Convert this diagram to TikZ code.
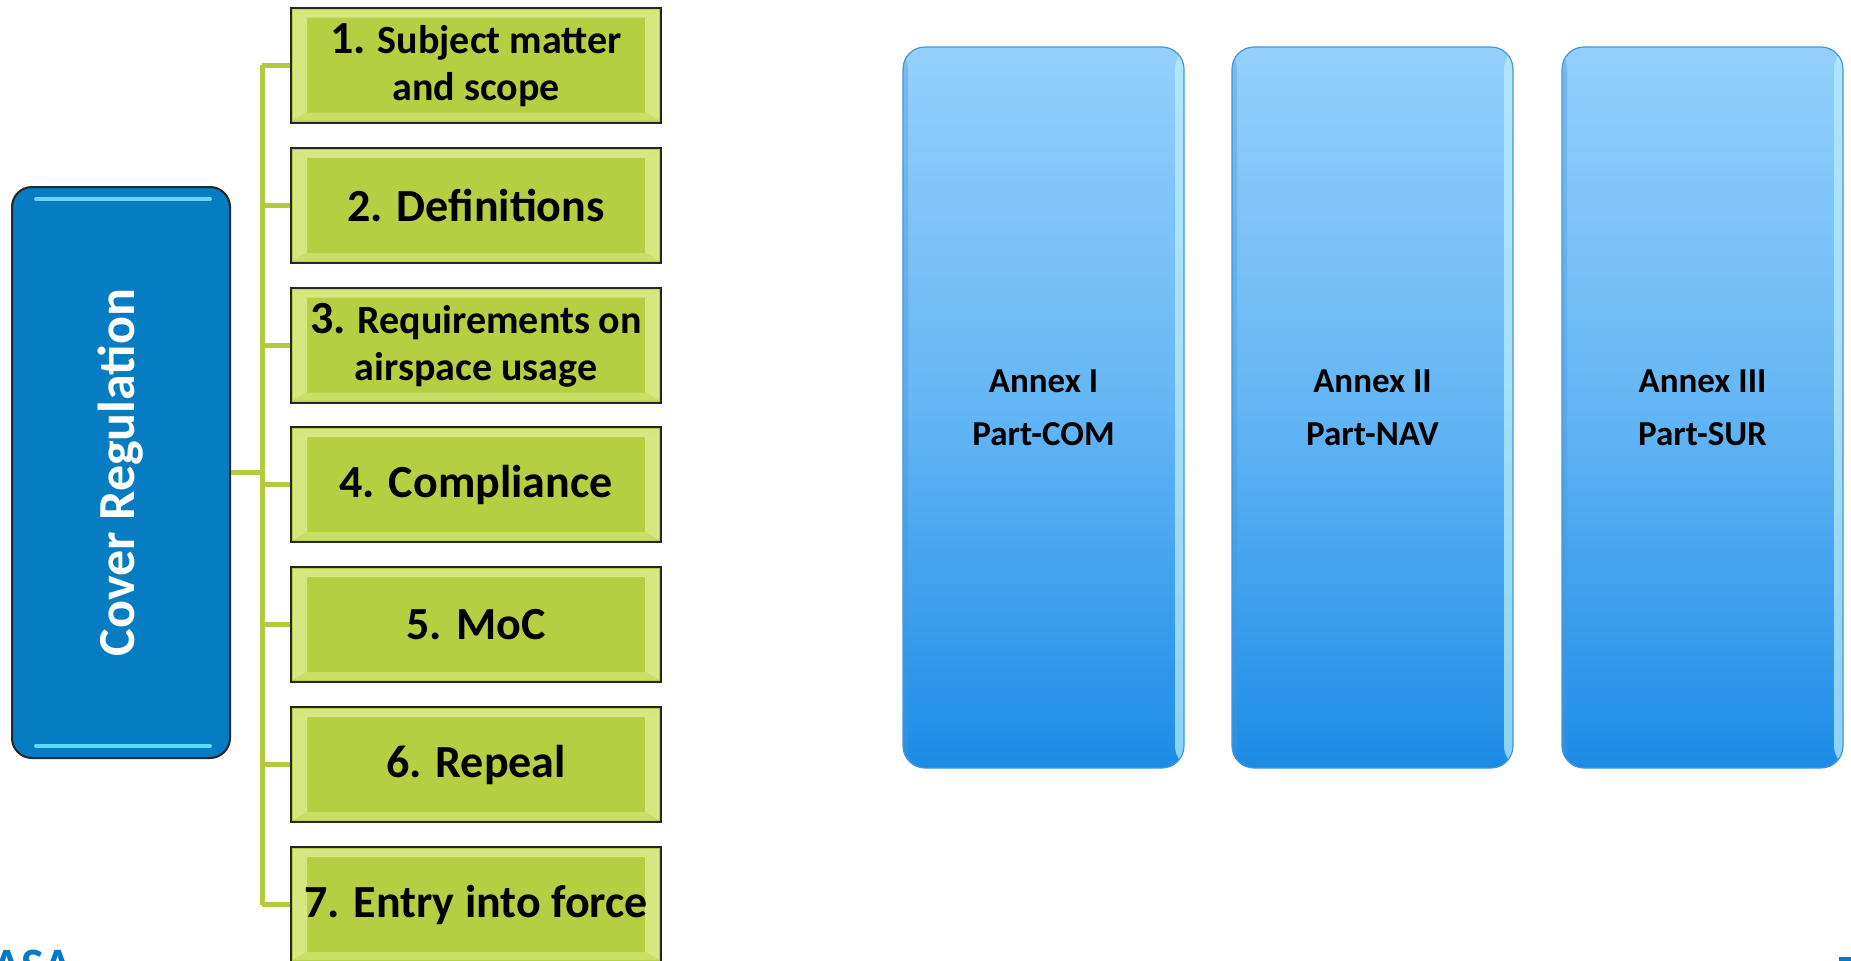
\documentclass[tikz,border=0pt]{standalone}
\usepackage{fontspec}
\usepackage{graphicx}
\setmainfont{Carlito}
\usetikzlibrary{calc}
\definecolor{gfill}{RGB}{181,206,66}
\definecolor{glight}{RGB}{214,230,128}
\definecolor{gbot}{RGB}{200,222,100}
\definecolor{gline}{RGB}{176,204,62}
\definecolor{coverblue}{RGB}{6,125,194}
\definecolor{coverhl}{RGB}{100,215,250}
\definecolor{annextop}{RGB}{148,208,251}
\definecolor{annexmid}{RGB}{100,182,245}
\definecolor{annexbot}{RGB}{28,140,230}
\definecolor{annexedge}{RGB}{70,150,215}
\definecolor{annexhl}{RGB}{190,240,255}
\definecolor{easablue}{RGB}{0,122,200}
\begin{document}
\begin{tikzpicture}[x=0.5pt,y=-0.5pt,
  gbox/.style={draw=black!85, line width=1pt, fill=gfill, minimum width=185pt,
    minimum height=57.5pt, inner sep=0pt, align=center, text=black,
    font=\bfseries\fontsize{23}{24}\selectfont,
    path picture={
      \fill[glight] ($(path picture bounding box.north west)+(1pt,-1pt)$) --
        ($(path picture bounding box.north west)+(8pt,-5pt)$) --
        ($(path picture bounding box.south west)+(8pt,5pt)$) --
        ($(path picture bounding box.south west)+(1pt,1pt)$) -- cycle;
      \fill[glight] ($(path picture bounding box.north east)+(-1pt,-1pt)$) --
        ($(path picture bounding box.north east)+(-8pt,-5pt)$) --
        ($(path picture bounding box.south east)+(-8pt,5pt)$) --
        ($(path picture bounding box.south east)+(-1pt,1pt)$) -- cycle;
      \fill[glight] ($(path picture bounding box.north west)+(1pt,-1pt)$) --
        ($(path picture bounding box.north east)+(-1pt,-1pt)$) --
        ($(path picture bounding box.north east)+(-8pt,-5pt)$) --
        ($(path picture bounding box.north west)+(8pt,-5pt)$) -- cycle;
      \fill[gbot] ($(path picture bounding box.south west)+(1pt,1pt)$) --
        ($(path picture bounding box.south east)+(-1pt,1pt)$) --
        ($(path picture bounding box.south east)+(-8pt,5pt)$) --
        ($(path picture bounding box.south west)+(8pt,5pt)$) -- cycle;
    }},
  gtwo/.style={gbox, font=\bfseries\fontsize{20}{23.5}\selectfont},
  cover/.style={draw=black!85, line width=1pt, fill=coverblue, rounded corners=10pt,
    minimum width=109pt, minimum height=285.5pt, inner sep=0pt, text=white,
    font=\bfseries\fontsize{26}{28}\selectfont},
  annex/.style={rounded corners=11pt, minimum width=140.5pt, minimum height=360.5pt,
    draw=annexedge, line width=0.6pt, top color=annextop, bottom color=annexbot,
    middle color=annexmid, align=center, inner sep=0pt, text=black,
    font=\bfseries\fontsize{17.5}{26.5}\selectfont,
    path picture={
      \fill[annexhl, opacity=0.7] ($(path picture bounding box.north east)+(-4.5pt,0pt)$)
        rectangle (path picture bounding box.south east);
      \fill[annexedge, opacity=0.35] (path picture bounding box.north west)
        rectangle ($(path picture bounding box.south west)+(2.5pt,0pt)$);
    }},
  conn/.style={draw=gline, line width=2.5pt},
  hl/.style={draw=coverhl, line width=2pt, line cap=round}
]
\clip (0,0) rectangle (1851,960);
\fill[white] (0,0) rectangle (1851,960);

% Cover regulation
\node[cover] (cover) at (121,472.5) {\rotatebox{90}{Cover Regulation}};
\draw[hl] (36,199) -- (210,199);
\draw[hl] (36,746) -- (210,746);

% green article boxes
\node[gtwo] (g1) at (476,65) {{\fontsize{23}{23.5}\selectfont 1.} Subject matter\\and scope};
\node[gbox] (g2) at (476,205.5) {2. Definitions};
\node[gtwo] (g3) at (476,345) {{\fontsize{23}{23.5}\selectfont 3.} Requirements on\\airspace usage};
\node[gbox] (g4) at (476,484.5) {4. Compliance};
\node[gbox] (g5) at (476,624.5) {5. MoC};
\node[gbox] (g6) at (476,764.5) {6. Repeal};
\node[gbox] (g7) at (476,904.5) {7. Entry into force};

% connectors
\coordinate (bus) at (262,472.5);
\draw[conn] (cover.east) -- (bus);
\draw[conn] (g1.west -| bus) -- (g7.west -| bus);
\foreach \i in {1,...,7} {
  \draw[conn] (g\i.west -| bus) -- (g\i.west);
}

% annexes
\node[annex] (a1) at (1043.5,407.5) {Annex I\\Part-COM};
\node[annex] (a2) at (1372.5,407.5) {Annex II\\Part-NAV};
\node[annex] (a3) at (1702.5,407.5) {Annex III\\Part-SUR};

% cut-off logo pieces
\node[anchor=base east, inner sep=0pt, text=easablue,
  font=\bfseries\fontsize{24}{24}\selectfont] (logo) at (73,981) {EASA};
\fill[easablue] (1839,957) rectangle (1851,961);
\end{tikzpicture}
\end{document}
